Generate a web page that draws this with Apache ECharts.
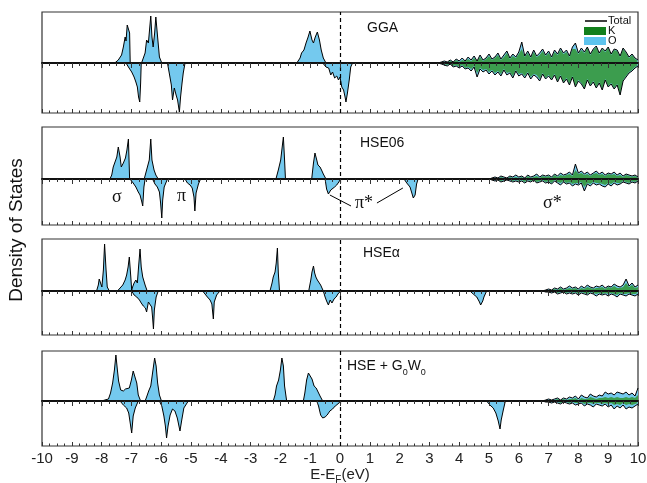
<!DOCTYPE html>
<html><head><meta charset="utf-8">
<script src="https://cdn.jsdelivr.net/npm/echarts@6/dist/echarts.min.js"></script>
<style>html,body{margin:0;padding:0;background:#fff}#c{width:647px;height:483px}</style>
</head><body><div id="c"></div>
<script>
// ---------------- DATA (energies in eV, DOS in arbitrary units) ----------------
const X_MIN = -10, X_MAX = 10, X_STEP = 1;
const panelNames = ['GGA', 'HSE06', 'HSEα', 'HSE + G0W0'];
const condStep = 0.1;

// GGA
const gga_valUp = [[-7.56,0],[-7.52,1],[-7.44,3],[-7.33,8],[-7.27,16],[-7.21,26],[-7.18,22],[-7.14,38],[-7.09,40],[-7.06,30],[-7.04,0],
  [-6.66,0],[-6.60,5],[-6.54,10],[-6.49,23],[-6.43,20],[-6.35,47],[-6.31,26],[-6.27,16],[-6.22,30],[-6.18,46],[-6.12,26],[-6.06,6],[-5.98,0],
  [-1.45,0],[-1.34,5],[-1.29,10],[-1.21,13],[-1.14,20],[-1.07,26],[-1.01,32],[-0.94,23],[-0.89,20],[-0.83,26],[-0.76,31],[-0.69,23],[-0.63,13],[-0.56,5],[-0.47,0]];
const gga_valDn = [[-7.18,0],[-7.10,-4],[-6.99,-9],[-6.91,-14],[-6.85,-19],[-6.80,-24],[-6.76,-34],[-6.72,-39],[-6.69,-20],[-6.67,0],
  [-5.79,0],[-5.73,-10],[-5.66,-22],[-5.62,-37],[-5.56,-25],[-5.50,-32],[-5.45,-37],[-5.39,-49],[-5.35,-34],[-5.30,-20],[-5.26,-10],[-5.20,0],
  [-0.58,0],[-0.47,-4],[-0.38,-5],[-0.31,-12],[-0.25,-9],[-0.18,-15],[-0.11,-13],[-0.05,-17],[0.0,-14],[0.06,-24],[0.12,-27],[0.17,-34],[0.2,-39],[0.25,-30],[0.31,-17],[0.36,-4],[0.42,0]];
const gga_condStart = 3.3;
const gga_condUp = [0,1,2,1,3,1,4,2,5,2, 6,3,7,2,8,3,5,9,4,6, 10,4,8,12,5,9,6,11,21,7, 12,6,13,7,10,14,8,12,6,13, 9,15,10,13,7,16,20,10,15,11, 16,9,14,17,10,15,12,16,9,14, 13,7,15,11,6,9,5,3];
const gga_condDn = [0,-1,-2,-3,-1,-4,-3,-5,-3,-6, -5,-8,-4,-14,-6,-9,-7,-11,-8,-12, -9,-13,-7,-12,-10,-15,-8,-13,-11,-15, -10,-16,-12,-14,-18,-11,-16,-13,-17,-12, -19,-13,-20,-16,-22,-14,-24,-18,-21,-26, -17,-23,-19,-25,-20,-27,-17,-24,-21,-26, -22,-32,-18,-14,-10,-8,-5,-3];
const gga_kUp = [0,0,1,1,2,1,3,1,3,2, 4,2,5,2,6,2,4,7,3,5, 8,3,6,10,4,7,5,9,14,6, 10,5,11,6,8,12,7,10,5,11, 8,13,9,11,6,14,14,9,13,10, 15,8,13,16,9,14,11,15,8,13, 12,6,14,10,5,8,4,2];
const gga_kDn = [0,-1,-1,-2,-1,-3,-2,-4,-2,-5, -4,-6,-3,-10,-5,-7,-6,-9,-7,-10, -8,-11,-6,-10,-9,-13,-7,-11,-10,-13, -9,-14,-11,-12,-16,-10,-15,-12,-16,-11, -18,-12,-19,-15,-21,-13,-23,-17,-20,-25, -16,-22,-18,-24,-19,-26,-16,-23,-20,-25, -21,-31,-17,-13,-9,-7,-4,-2];

// HSE06
const hse06_valUp = [[-7.72,0],[-7.66,4],[-7.61,12],[-7.55,11],[-7.49,22],[-7.44,32],[-7.38,22],[-7.34,12],[-7.27,16],[-7.20,21],[-7.15,29],[-7.10,40],[-7.06,0],
  [-6.57,0],[-6.49,9],[-6.43,11],[-6.40,19],[-6.35,40],[-6.31,19],[-6.24,9],[-6.18,4],[-6.10,0],
  [-2.15,0],[-2.07,9],[-1.99,19],[-1.94,32],[-1.90,42],[-1.86,19],[-1.83,0],
  [-0.95,0],[-0.89,16],[-0.84,26],[-0.78,19],[-0.74,14],[-0.67,12],[-0.62,9],[-0.56,5],[-0.47,0]];
const hse06_valDn = [[-7.05,0],[-6.94,-4],[-6.85,-8],[-6.77,-13],[-6.71,-16],[-6.65,-23],[-6.62,-27],[-6.58,-8],[-6.54,0],
  [-6.29,0],[-6.21,-5],[-6.13,-8],[-6.06,-13],[-6.02,-24],[-5.98,-39],[-5.95,-21],[-5.90,-8],[-5.79,0],
  [-5.20,0],[-5.12,-4],[-5.03,-6],[-4.96,-9],[-4.90,-18],[-4.87,-32],[-4.83,-14],[-4.75,-5],[-4.68,0],
  [-0.50,0],[-0.45,-10],[-0.39,-15],[-0.36,-16],[-0.31,-11],[-0.25,-13],[-0.18,-8],[-0.11,-6],[-0.04,-3],[0.02,0],
  [2.15,0],[2.24,-4],[2.35,-8],[2.40,-13],[2.46,-19],[2.52,-16],[2.57,-5],[2.62,0]];
const hse06_condStart = 5.0;
const hse06_condUp = [0,1,2,1,3,2,1,3,2,4, 2,3,1,4,2,3,5,2,4,3, 4,2,5,3,6,4,5,7,4,15, 6,8,5,7,4,6,8,5,7,4, 6,5,7,4,6,3,5,4,3,4,2];
const hse06_condDn = [0,-1,-2,-1,-3,-2,-1,-2,-3,-2, -3,-2,-4,-2,-3,-1,-4,-3,-2,-4, -3,-5,-2,-4,-6,-3,-5,-4,-7,-5, -6,-4,-12,-5,-7,-4,-6,-5,-7,-8, -5,-7,-4,-6,-5,-3,-4,-5,-3,-4,-2];
const hse06_kUp = [0,0,1,0,2,1,0,2,1,2, 1,2,0,3,1,2,3,1,3,2, 3,1,4,2,4,3,4,5,3,9, 5,6,4,5,3,5,6,4,5,3, 5,4,5,3,4,2,4,3,2,3,1];
const hse06_kDn = [0,0,-1,-1,-2,-1,-1,-1,-2,-1, -2,-1,-3,-1,-2,-1,-3,-2,-1,-3, -2,-4,-1,-3,-4,-2,-4,-3,-5,-4, -4,-3,-8,-4,-5,-3,-4,-4,-5,-6, -4,-5,-3,-4,-4,-2,-3,-4,-2,-3,-1];

// HSE alpha
const hsea_valUp = [[-8.17,0],[-8.11,6],[-8.08,12],[-8.03,13],[-7.99,4],[-7.94,21],[-7.90,47],[-7.85,21],[-7.81,4],[-7.74,0],
  [-7.47,0],[-7.38,3],[-7.29,6],[-7.21,11],[-7.16,16],[-7.11,24],[-7.07,34],[-7.02,14],[-6.99,1],[-6.96,4],[-6.91,8],[-6.85,11],[-6.80,8],[-6.76,24],[-6.71,42],[-6.67,24],[-6.62,14],[-6.54,6],[-6.47,0],
  [-2.35,0],[-2.28,8],[-2.24,14],[-2.18,19],[-2.14,28],[-2.10,43],[-2.07,18],[-2.03,0],
  [-1.05,0],[-0.98,11],[-0.94,19],[-0.89,25],[-0.85,18],[-0.81,14],[-0.76,11],[-0.72,9],[-0.65,6],[-0.56,0]];
const hsea_valDn = [[-6.99,0],[-6.91,-4],[-6.82,-6],[-6.73,-9],[-6.67,-12],[-6.60,-15],[-6.53,-17],[-6.49,-21],[-6.43,-11],[-6.38,-9],[-6.32,-16],[-6.29,-26],[-6.26,-38],[-6.23,-19],[-6.17,-6],[-6.10,0],
  [-4.61,0],[-4.53,-3],[-4.45,-6],[-4.36,-9],[-4.30,-13],[-4.25,-28],[-4.22,-11],[-4.14,-4],[-4.03,0],
  [-0.56,0],[-0.50,-6],[-0.45,-10],[-0.39,-14],[-0.33,-9],[-0.27,-12],[-0.20,-8],[-0.13,-6],[-0.07,-3],[0.02,0],
  [4.36,0],[4.47,-3],[4.59,-6],[4.68,-11],[4.72,-14],[4.79,-10],[4.83,-6],[4.92,0]];
const hsea_condStart = 6.8;
const hsea_condUp = [0,1,2,1,3,2,4,2,3,5, 3,4,2,5,3,6,4,3,5,4, 6,3,5,4,7,5,4,6,12,5,8,4,6];
const hsea_condDn = [0,-1,-1,-2,-1,-3,-2,-1,-3,-2, -3,-2,-4,-2,-3,-4,-2,-3,-5,-3, -4,-3,-5,-3,-4,-6,-3,-4,-5,-3,-4,-5,-3];
const hsea_kUp = [0,0,1,1,2,1,3,1,2,3, 2,3,1,3,2,4,3,2,3,3, 4,2,4,3,5,3,3,4,8,4,6,3,4];
const hsea_kDn = [0,0,-1,-1,-1,-2,-1,-1,-2,-1, -2,-1,-3,-1,-2,-3,-1,-2,-3,-2, -3,-2,-3,-2,-3,-4,-2,-3,-3,-2,-3,-3,-2];

// HSE + G0W0
const gw_valUp = [[-8.0,0],[-7.89,1],[-7.77,2],[-7.70,8],[-7.63,18],[-7.57,31],[-7.52,46],[-7.47,31],[-7.43,20],[-7.36,11],[-7.27,10],[-7.20,12],[-7.14,10],[-7.07,13],[-7.00,21],[-6.94,30],[-6.88,31],[-6.82,18],[-6.77,6],[-6.69,0],
  [-6.54,0],[-6.49,4],[-6.42,10],[-6.35,15],[-6.29,28],[-6.22,43],[-6.17,35],[-6.12,18],[-6.06,6],[-5.99,0],
  [-2.24,0],[-2.18,6],[-2.13,15],[-2.06,21],[-2.00,31],[-1.95,43],[-1.90,35],[-1.86,15],[-1.79,0],
  [-1.23,0],[-1.18,8],[-1.12,21],[-1.06,28],[-1.01,26],[-0.94,22],[-0.87,15],[-0.80,13],[-0.74,12],[-0.67,5],[-0.58,0]];
const gw_valDn = [[-7.38,0],[-7.27,-4],[-7.16,-7],[-7.09,-12],[-7.05,-20],[-6.99,-32],[-6.94,-15],[-6.87,-7],[-6.77,0],
  [-6.06,0],[-5.98,-5],[-5.91,-15],[-5.86,-25],[-5.82,-37],[-5.77,-25],[-5.70,-14],[-5.62,-8],[-5.54,-10],[-5.46,-17],[-5.37,-30],[-5.31,-19],[-5.24,-7],[-5.09,0],
  [-0.78,0],[-0.72,-5],[-0.65,-14],[-0.58,-17],[-0.50,-16],[-0.43,-14],[-0.34,-10],[-0.25,-8],[-0.16,-5],[-0.07,-3],[0.02,0],
  [4.92,0],[5.03,-4],[5.14,-7],[5.23,-12],[5.31,-20],[5.37,-28],[5.41,-19],[5.48,-9],[5.55,0]];
const gw_condStart = 6.8;
const gw_condUp = [0,1,2,1,2,3,1,3,2,4, 3,5,2,6,4,3,7,5,4,6, 5,9,7,8,6,9,8,7,9,6,8,5,13];
const gw_condDn = [0,-1,-1,-2,-1,-2,-3,-1,-2,-3, -2,-4,-3,-2,-5,-3,-4,-6,-3,-4, -5,-3,-6,-4,-8,-5,-7,-4,-8,-6,-7,-5,-3];
const gw_kUp = [0,0,1,1,1,2,1,2,1,2, 2,3,1,3,2,2,4,3,2,3, 3,4,3,4,3,4,3,3,4,3,4,3,6];
const gw_kDn = [0,0,-1,-1,-1,-1,-2,-1,-1,-2, -1,-2,-2,-1,-3,-2,-2,-3,-2,-2, -3,-2,-3,-2,-4,-3,-4,-2,-4,-3,-4,-3,-2];

// annotation labels (panel 2)
const annoLabels = ['σ', 'π', 'π*', 'σ*'];

// ---------------- LAYOUT / STYLE ----------------
const SANS = 'Liberation Sans, Arial, Helvetica, sans-serif';
const SERIF = 'Liberation Serif, DejaVu Serif, Times New Roman, serif';
const O_COLOR = '#74C9EE';
const K_COLOR = 'rgba(52,150,56,0.88)';
const layout = [
  {top: 12, height: 101, min: -50, max: 51},
  {top: 127, height: 98, min: -46, max: 52},
  {top: 239, height: 96, min: -44, max: 52},
  {top: 351, height: 95, min: -45, max: 50}
];

function cond(start, vals) {
  return vals.map((v, i) => [Math.round((start + i * condStep) * 100) / 100, v]);
}
const panels = [
  {vu: gga_valUp, vd: gga_valDn, cs: gga_condStart, cu: gga_condUp, cd: gga_condDn, ku: gga_kUp, kd: gga_kDn},
  {vu: hse06_valUp, vd: hse06_valDn, cs: hse06_condStart, cu: hse06_condUp, cd: hse06_condDn, ku: hse06_kUp, kd: hse06_kDn},
  {vu: hsea_valUp, vd: hsea_valDn, cs: hsea_condStart, cu: hsea_condUp, cd: hsea_condDn, ku: hsea_kUp, kd: hsea_kDn},
  {vu: gw_valUp, vd: gw_valDn, cs: gw_condStart, cu: gw_condUp, cd: gw_condDn, ku: gw_kUp, kd: gw_kDn}
];

const grids = [], xAxes = [], yAxes = [], series = [];
layout.forEach((L, i) => {
  grids.push({left: 42, right: 9, top: L.top, height: L.height, show: true, containLabel: false, outerBoundsMode: 'none',
    borderColor: '#333', borderWidth: 1.2, backgroundColor: 'transparent'});
  const last = i === layout.length - 1;
  // bottom axis (ticks inside, pointing up)
  xAxes.push({
    type: 'value', gridIndex: i, min: X_MIN, max: X_MAX, interval: X_STEP, position: 'bottom',
    axisLine: {show: false, onZero: false},
    axisTick: {show: true, inside: true, length: 4, lineStyle: {color: '#333', width: 1}},
    minorTick: {show: true, splitNumber: 4, length: 2.5, lineStyle: {color: '#333', width: 1}},
    splitLine: {show: false}, minorSplitLine: {show: false},
    axisLabel: {show: last, fontSize: 15, color: '#222', fontFamily: SANS, margin: 5},
    name: last ? '{a|E-E}{s|F}{a|(eV)}' : '',
    nameLocation: 'middle', nameGap: 17,
    nameTextStyle: {rich: {
      a: {fontSize: 15, fontFamily: SANS, color: '#222', lineHeight: 18},
      s: {fontSize: 10, fontFamily: SANS, color: '#222', verticalAlign: 'bottom', lineHeight: 18, padding: [0, 0, -2, 0]}
    }}
  });
  // zero line axis (ticks pointing down)
  xAxes.push({
    type: 'value', gridIndex: i, min: X_MIN, max: X_MAX, interval: X_STEP, position: 'top', z: 10,
    axisLine: {show: true, onZero: true, lineStyle: {color: '#111', width: 2}},
    axisTick: {show: true, inside: true, length: 5, lineStyle: {color: '#333', width: 1}},
    minorTick: {show: true, splitNumber: 4, length: 3, lineStyle: {color: '#333', width: 1}},
    splitLine: {show: false}, axisLabel: {show: false}
  });
  yAxes.push({
    type: 'value', gridIndex: i, min: L.min, max: L.max,
    axisLine: {show: false}, axisTick: {show: false}, axisLabel: {show: false}, splitLine: {show: false}
  });
  const P = panels[i];
  const totUp = P.vu.concat(cond(P.cs, P.cu));
  const totDn = P.vd.concat(cond(P.cs, P.cd));
  const kUp = cond(P.cs, P.ku);
  const kDn = cond(P.cs, P.kd);
  const base = {type: 'line', xAxisIndex: 2 * i, yAxisIndex: i, showSymbol: false, symbol: 'none', silent: true, animation: false};
  [totUp, totDn].forEach(d => series.push(Object.assign({}, base, {name: 'O', data: d, z: 2, lineStyle: {width: 0, opacity: 0}, areaStyle: {color: O_COLOR, opacity: 1}})));
  [kUp, kDn].forEach(d => series.push(Object.assign({}, base, {name: 'K', data: d, z: 3, lineStyle: {width: 0, opacity: 0}, areaStyle: {color: K_COLOR, opacity: 1}})));
  series.push(Object.assign({}, base, {
    name: 'Total', data: totUp, z: 4, lineStyle: {color: '#000', width: 1},
    markLine: {silent: true, symbol: 'none', animation: false, label: {show: false},
      lineStyle: {color: '#000', width: 1.2, type: [4, 3]}, data: [{xAxis: 0}]}
  }));
  const dnSeries = Object.assign({}, base, {name: 'Total', data: totDn, z: 4, lineStyle: {color: '#000', width: 1}});
  if (i === 1) {
    dnSeries.markLine = {silent: true, symbol: 'none', animation: false, label: {show: false},
      lineStyle: {color: '#000', width: 1, type: 'solid'},
      data: [[{coord: [-0.34, -16]}, {coord: [0.37, -27]}], [{coord: [1.24, -24]}, {coord: [2.11, -9]}]]};
  }
  series.push(dnSeries);
});

const labelTop = [28, 143, 253, 366];
const labelLeft = [367, 360, 363, 347];
const graphic = [];
panelNames.forEach((n, i) => {
  let text = n, rich;
  if (n.indexOf('G0W0') >= 0) {
    text = '{a|HSE + G}{s|0}{a|W}{s|0}';
    rich = {a: {fontSize: 14, fontFamily: SANS, fill: '#111', lineHeight: 16},
            s: {fontSize: 9, fontFamily: SANS, fill: '#111', verticalAlign: 'bottom', lineHeight: 16, padding: [0, 0, -3, 0]}};
  }
  graphic.push({type: 'text', x: labelLeft[i], y: labelTop[i], z: 20,
    style: {text: text, rich: rich, font: '14px ' + SANS, fill: '#111', align: 'left', verticalAlign: 'middle'}});
});
// legend
graphic.push({type: 'line', shape: {x1: 585, y1: 21, x2: 607, y2: 21}, style: {stroke: '#000', lineWidth: 1.5}, z: 20});
graphic.push({type: 'rect', shape: {x: 584, y: 27, width: 22, height: 8}, style: {fill: '#127F1B'}, z: 20});
graphic.push({type: 'rect', shape: {x: 584, y: 37, width: 22, height: 8}, style: {fill: '#5EC4EE'}, z: 20});
[['Total', 20.5], ['K', 31], ['O', 41]].forEach(t => graphic.push({type: 'text', x: 608, y: t[1], z: 20,
  style: {text: t[0], font: '11px ' + SANS, fill: '#111', align: 'left', verticalAlign: 'middle'}}));
// annotations
const annoPos = [[112, 197], [177, 196], [355, 203], [543, 203]];
annoLabels.forEach((t, i) => graphic.push({type: 'text', x: annoPos[i][0], y: annoPos[i][1], z: 20,
  style: {text: t, font: '18px ' + SERIF, fill: '#111', align: 'left', verticalAlign: 'middle'}}));
// y label
graphic.push({type: 'text', x: 17, y: 230, rotation: Math.PI / 2, z: 20,
  style: {text: 'Density of States', font: '19px ' + SANS, fill: '#111', align: 'center', verticalAlign: 'middle'}});

const chart = echarts.init(document.getElementById('c'), null, {renderer: 'canvas'});
chart.setOption({
  animation: false,
  backgroundColor: '#fff',
  grid: grids, xAxis: xAxes, yAxis: yAxes, series: series, graphic: graphic
});
</script></body></html>
